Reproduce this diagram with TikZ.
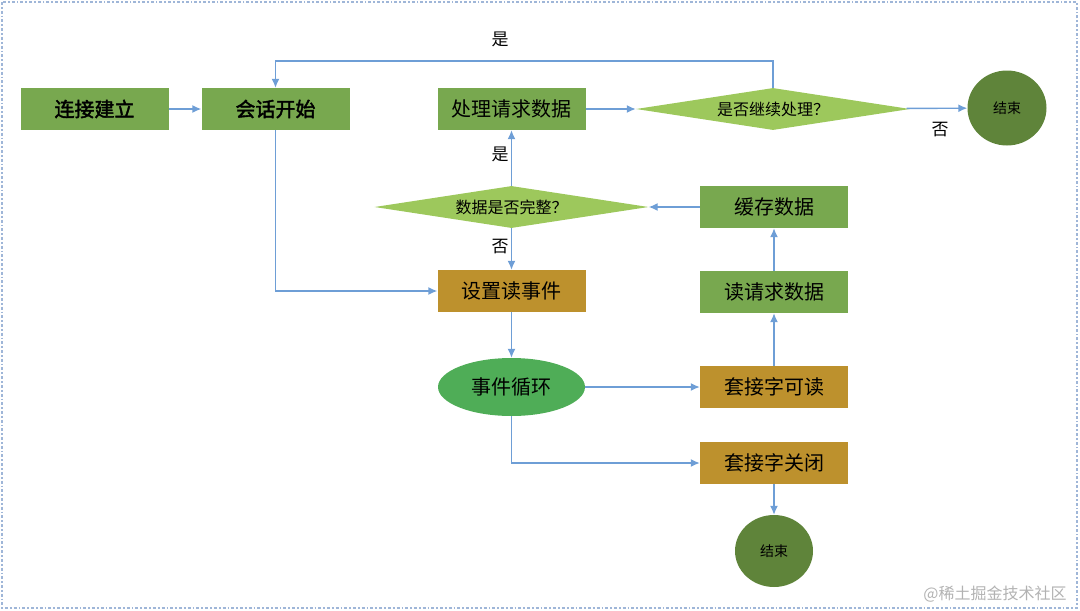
\documentclass[tikz,border=0pt]{standalone}
\usepackage{fontspec}
\newfontfamily\cjk[AutoFakeBold=2]{Noto Sans CJK SC}
\usetikzlibrary{shapes.geometric,arrows.meta}
\definecolor{boxgreen}{HTML}{78A84F}
\definecolor{diagreen}{HTML}{9DC85C}
\definecolor{endgreen}{HTML}{5F843A}
\definecolor{loopgreen}{HTML}{4FAD57}
\definecolor{boxgold}{HTML}{BD912D}
\definecolor{linkblue}{HTML}{6E9ED6}
\definecolor{framblue}{HTML}{9FB6D8}
\tikzset{
  stepbox/.style={fill=boxgreen, minimum width=148pt, minimum height=42pt, inner sep=0pt, font=\cjk\fontsize{20}{24}\selectfont},
  goldbox/.style={stepbox, fill=boxgold},
  askbox/.style={diamond, fill=diagreen, aspect=6.5, minimum width=274pt, minimum height=42pt, inner sep=0pt, font=\cjk\fontsize{16}{20}\selectfont},
  endbox/.style={ellipse, fill=endgreen, minimum width=79pt, minimum height=75pt, inner sep=0pt, font=\cjk\fontsize{14}{17}\selectfont},
  tag/.style={font=\cjk\fontsize{17}{20}\selectfont},
  link/.style={draw=linkblue, line width=1.4pt, -{Latex[length=9pt,width=8pt]}},
}
\begin{document}
\begin{tikzpicture}[x=1pt,y=-1pt]
\useasboundingbox (0,0) rectangle (1080,611);
\draw[framblue, line width=1.7pt, dash dot] (2,2) rectangle (1077,608);
\node[stepbox] (lianjie) at (94.5,109) {\bfseries 连接建立};
\node[stepbox] (huihua) at (275.5,109) {\bfseries 会话开始};
\node[stepbox] (chuli) at (511.5,109) {处理请求数据};
\node[askbox] (jixu) at (773,109) {是否继续处理？};
\node[endbox] (end1) at (1007,108) {结束};
\node[askbox] (wanzheng) at (511.5,207) {数据是否完整？};
\node[stepbox] (huancun) at (774,207) {缓存数据};
\node[goldbox] (shezhi) at (511.5,291) {设置读事件};
\node[stepbox] (duqu) at (774,292) {读请求数据};
\node[ellipse, fill=loopgreen, minimum width=147pt, minimum height=58pt, inner sep=0pt, font=\cjk\fontsize{20}{24}\selectfont] (xunhuan) at (511.5,387) {事件循环};
\node[goldbox] (kedu) at (774,387) {套接字可读};
\node[goldbox] (guanbi) at (774,463) {套接字关闭};
\node[endbox, minimum width=78pt, minimum height=72pt] (end2) at (774,551) {结束};
\node[tag] (shi1) at (500,39) {是};
\node[tag] (fou1) at (940,130) {否};
\node[tag] (shi2) at (500,154) {是};
\node[tag] (fou2) at (500,247) {否};
\node[font=\cjk\fontsize{16}{19}\selectfont, text=black!30] (mark) at (995,594) {@稀土掘金技术社区};
\draw[link] (lianjie) -- (huihua);
\draw[link] (jixu.north) -- (jixu.north |- 0,61) -| (huihua.north);
\draw[link] (chuli) -- (jixu);
\draw[link] (jixu) -- (end1);
\draw[link] (wanzheng) -- (chuli);
\draw[link] (wanzheng) -- (shezhi);
\draw[link] (huihua.south) |- (shezhi.west);
\draw[link] (shezhi) -- (xunhuan);
\draw[link] (xunhuan) -- (kedu);
\draw[link] (kedu) -- (duqu);
\draw[link] (duqu) -- (huancun);
\draw[link] (huancun) -- (wanzheng);
\draw[link] (xunhuan.south) |- (guanbi.west);
\draw[link] (guanbi) -- (end2);
\end{tikzpicture}
\end{document}
